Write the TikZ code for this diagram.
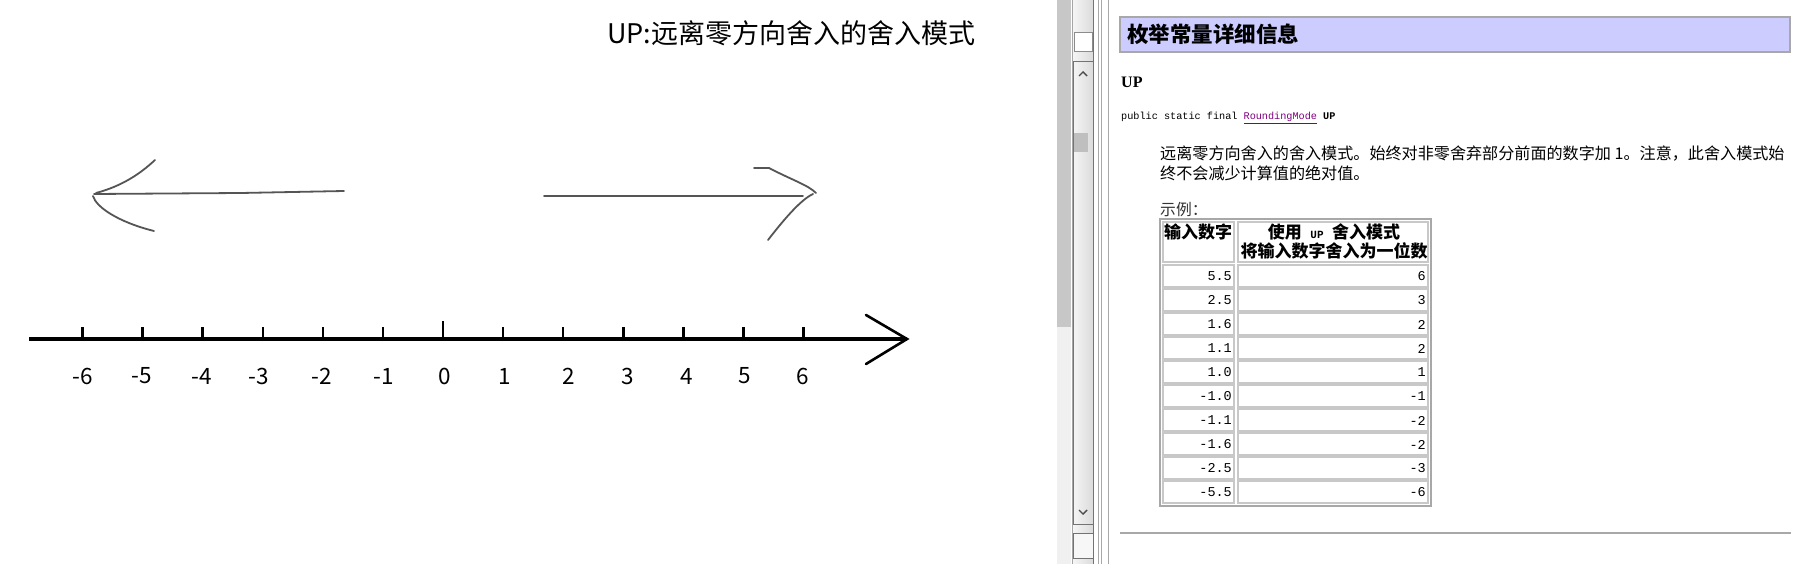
\documentclass[tikz,border=0pt]{standalone}
\usepackage{fontspec}
\newfontfamily\cjk{Noto Sans CJK SC}
\newfontfamily\mono{Liberation Mono}
\newfontfamily\serifb{Liberation Serif}
\definecolor{hand}{HTML}{555555}
\definecolor{hdrfill}{HTML}{CCCCFF}
\definecolor{edge}{HTML}{A8A8A8}
\definecolor{celledge}{HTML}{C8C8C8}
\definecolor{linkpurple}{HTML}{800080}
\tikzset{
  handline/.style={draw=hand, line width=1.8, line cap=round, line join=round},
  tickmark/.style={line width=2.4},
  numlabel/.style={font=\cjk\fontsize{22.5}{26}\selectfont, inner sep=0pt},
  cellbox/.style={draw=celledge, line width=1.2, fill=white},
  cellnum/.style={font=\mono\fontsize{13.5}{16}\selectfont, inner sep=0pt, anchor=east},
  hdrtext/.style={font=\cjk\bfseries\fontsize{17}{19}\selectfont, inner sep=0pt},
}
\begin{document}
\begin{tikzpicture}[x=1pt,y=-1pt]
\useasboundingbox (0,0) rectangle (1800,564);
\fill[white] (0,0) rectangle (1800,564);

% ---------- left: title ----------
\node[anchor=west, inner sep=0pt, font=\cjk\fontsize{27}{32}\selectfont] (title) at (607,33) {UP:远离零方向舍入的舍入模式};

% ---------- hand-drawn arrows ----------
\coordinate (la0) at (344,191);
\coordinate (la1) at (94,194);
\draw[handline] (la0) -- (241,193) -- (la1);
\draw[handline] (155,160) .. controls (140,174) and (122,186) .. (96,193);
\draw[handline] (93,196) .. controls (96,207) and (118,222) .. (154,231);

\coordinate (ra0) at (544,196);
\coordinate (ra1) at (803,196);
\draw[handline] (ra0) -- (ra1);
\draw[handline] (754,168) -- (769,168) .. controls (792,180) and (808,185) .. (816,193);
\draw[handline] (813,194) .. controls (800,200) and (782,222) .. (768,240);

% ---------- number line ----------
\coordinate (axL) at (29,339);
\coordinate (axR) at (907,339);
\draw[line width=3.5] (axL) -- (axR);
\draw[line width=2.6, line cap=round] (866,315) -- (axR) -- (866,364);
\foreach \k in {-6,...,6} {
  \draw[tickmark] ({443+60.1*\k},327) -- ({443+60.1*\k},339);
}
\draw[tickmark] (443,321) -- (443,339);
\foreach \t/\x [count=\n] in {-6/83,-5/142,-4/202,-3/259,-2/322,-1/384,0/445,1/505,2/569,3/628,4/687,5/745,6/803} {
  \node[numlabel] (lbl\n) at (\x,376) {\t};
}

% ---------- right: window chrome ----------
\fill[fill=black!22] (1057,0) rectangle (1071,327);
\fill[fill=black!6] (1057,327) rectangle (1071,564);
\draw[black!35, line width=0.8] (1072,0) -- (1072,564);
\shade[left color=black!4, right color=black!14] (1073,0) rectangle (1093,564);
\draw[black!55, line width=1] (1093,0) -- (1093,564);
\filldraw[fill=white, draw=black!45, line width=1] (1074,33) rectangle (1092,52);
\draw[black!55, line width=1] (1073,62) rectangle (1093,524);
\draw[black!70, line width=1.4] (1079,76) -- (1083,72) -- (1087,76);
\fill[black!25] (1074,133) rectangle (1088,152);
\draw[black!70, line width=1.4] (1079,510) -- (1083,514) -- (1087,510);
\filldraw[fill=black!3, draw=black!55, line width=1] (1073,533) rectangle (1093,558);
\draw[edge, line width=1] (1098,0) -- (1098,564);
\draw[edge, line width=1] (1101,0) -- (1101,564);
\draw[edge, line width=1] (1108,0) -- (1108,564);

% ---------- header bar ----------
\filldraw[fill=hdrfill, draw=edge, line width=1.5] (1120,17) rectangle (1790,52);
\node[anchor=west, inner sep=0pt, font=\cjk\bfseries\fontsize{21.5}{26}\selectfont] (hdr) at (1127,34) {枚举常量详细信息};

\node[anchor=west, inner sep=0pt, font=\serifb\bfseries\fontsize{16}{18}\selectfont] (upname) at (1121,82) {UP};

\node[anchor=west, inner sep=0pt, font=\mono\fontsize{10.2}{12}\selectfont] (sig) at (1121,118)
  {public static final \textcolor{linkpurple}{\underline{RoundingMode}} {\bfseries UP}};

\node[anchor=north west, inner sep=0pt, align=left, font=\cjk\fontsize{16.1}{19.5}\selectfont] (desc) at (1160,146)
  {远离零方向舍入的舍入模式。始终对非零舍弃部分前面的数字加 1。注意，此舍入模式始\\终不会减少计算值的绝对值。};

\node[anchor=west, inner sep=0pt, font=\cjk\fontsize{15.8}{18}\selectfont, text=black!80] (ex) at (1160,210) {示例：};

% ---------- table ----------
\draw[edge, line width=1.5] (1160,219) rectangle (1431,506);
\draw[cellbox] (1163,222) rectangle (1234,262);
\draw[cellbox] (1238,222) rectangle (1428,262);
\node[hdrtext, anchor=west] (h1) at (1164,232) {输入数字};
\node[hdrtext] (h2a) at (1334,232) {使用\enspace{\mono\bfseries\fontsize{11}{13}\selectfont UP}\enspace 舍入模式};
\node[hdrtext] (h2b) at (1334,251) {将输入数字舍入为一位数};
\foreach \a/\b [count=\i from 0] in {5.5/6,2.5/3,1.6/2,1.1/2,1.0/1,-1.0/-1,-1.1/-2,-1.6/-2,-2.5/-3,-5.5/-6} {
  \pgfmathsetmacro{\ytop}{265+24*\i}
  \draw[cellbox] (1163,\ytop) rectangle (1234,\ytop+22);
  \draw[cellbox] (1238,\ytop) rectangle (1428,\ytop+22);
  \node[cellnum] (in\i) at (1232,\ytop+11.5) {\a};
  \node[cellnum] (out\i) at (1426,\ytop+11.5) {\b};
}

\draw[edge, line width=1.5] (1120,533) -- (1791,533);
\end{tikzpicture}
\end{document}
